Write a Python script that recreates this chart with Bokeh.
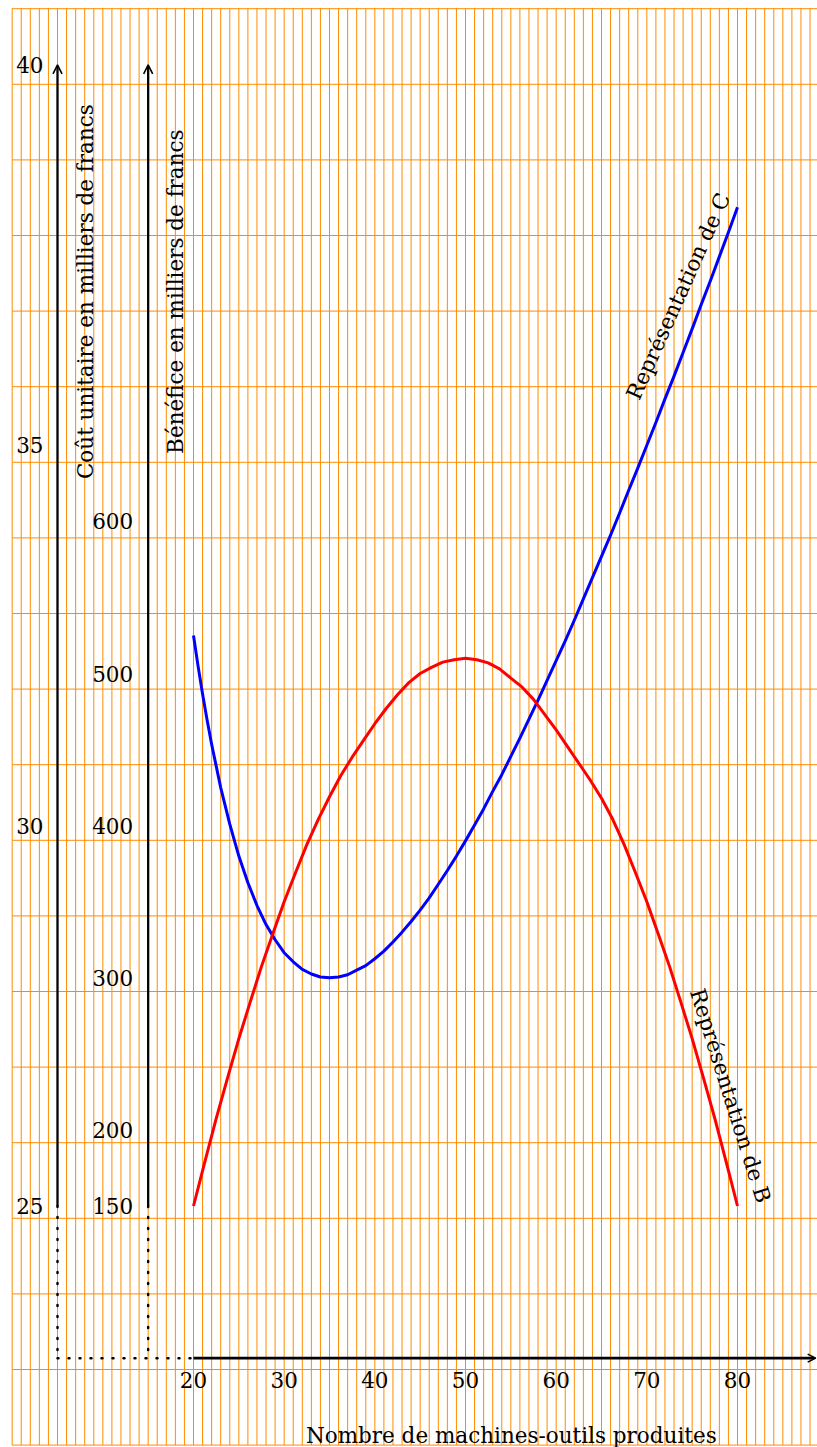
from math import radians
from bokeh.plotting import figure
from bokeh.models import Range1d, Arrow, OpenHead
from bokeh.core.properties import value
from bokeh.embed import file_html
from bokeh.resources import INLINE

# ---------------- data ----------------
x_cost = [20, 20.5, 21, 21.5, 22, 23, 24, 25, 26, 27, 28, 29, 30, 31, 32, 33, 34, 35, 36, 37,
          38, 39, 40, 41, 42, 43, 44, 45, 46, 47, 48, 49, 50, 51, 52, 53, 54, 55, 56, 57,
          58, 59, 60, 61, 62, 63, 64, 65, 66, 67, 68, 69, 70, 71, 72, 73, 74, 75, 76, 77,
          78, 79, 80]
cost = [32.50, 32.10, 31.73, 31.39, 31.07, 30.50, 30.02, 29.60, 29.25, 28.95, 28.70, 28.50,
        28.33, 28.21, 28.11, 28.05, 28.01, 28.00, 28.01, 28.04, 28.10, 28.16, 28.25, 28.35,
        28.47, 28.60, 28.74, 28.89, 29.05, 29.23, 29.41, 29.60, 29.80, 30.01, 30.22, 30.45,
        30.67, 30.91, 31.15, 31.40, 31.65, 31.91, 32.17, 32.43, 32.70, 32.98, 33.26, 33.54,
        33.82, 34.11, 34.41, 34.70, 35.00, 35.30, 35.61, 35.91, 36.22, 36.53, 36.85, 37.16,
        37.48, 37.80, 38.13]

x_benef = [20, 21.25, 22.5, 23.75, 25, 26.25, 27.5, 28.75, 30, 31.25, 32.5, 33.75, 35,
           36.25, 37.5, 38.75, 40, 41.25, 42.5, 43.75, 45, 46.25, 47.5, 48.75, 50,
           51.25, 52.5, 53.75, 55, 56.25, 57.5, 58.75, 60, 61.25, 62.5, 63.75, 65,
           66.25, 67.5, 68.75, 70, 71.25, 72.5, 73.75, 75, 76.25, 77.5, 78.75, 80]
benefit = [150, 179, 207.5, 234, 260, 284, 307.5, 329, 350, 369, 387.5, 404, 419,
           433, 445, 456, 467, 477, 486, 494, 500, 504, 507.5, 509, 510,
           509, 507, 503, 497, 491, 483, 473, 463, 452, 441, 430, 418,
           404, 387.5, 369, 350, 329, 307.5, 284, 260, 234, 207.5, 179, 150]

cost_ticks = [25, 30, 35, 40]
benef_ticks = [150, 200, 300, 400, 500, 600]
x_ticks = [20, 30, 40, 50, 60, 70, 80]

x_title = "Nombre de machines-outils produites"
cost_title = "Coût unitaire en milliers de francs"
benef_title = "Bénéfice en milliers de francs"
label_C = "Représentation de C"
label_B = "Représentation de B"

# ---------------- layout constants ----------------
PX_X = 9.0667   # pixels per machine
PX_Y = 76.07    # pixels per cost unit
W, H = 817, 1447
X_LEFT = 20 - 193 / PX_X
Y_TOP = 25 + 1205.5 / PX_Y
COST_AXIS_X, BENEF_AXIS_X = 5, 15
X_AXIS_Y = 23
COST_BASE, BENEF_BASE, BENEF_PER_COST = 25, 150, 50

FONT = value("DejaVu Serif")
FS = "21.5px"
GRID_COLOR = "#ff8c00"

p = figure(width=W, height=H,
           x_range=Range1d(X_LEFT, X_LEFT + W / PX_X),
           y_range=Range1d(Y_TOP - H / PX_Y, Y_TOP),
           output_backend="svg", toolbar_location=None, min_border=0,
           x_axis_location=None, y_axis_location=None, outline_line_color=None,
           background_fill_color="white", border_fill_color="white")
p.grid.visible = False

yr = p.y_range
p.extra_y_ranges = {"benef": Range1d(
    BENEF_BASE + (yr.start - COST_BASE) * BENEF_PER_COST,
    BENEF_BASE + (yr.end - COST_BASE) * BENEF_PER_COST)}

# ---------------- graph paper ----------------
g_bot = Y_TOP - 1444.6 / PX_Y
g_top = Y_TOP - 7.8 / PX_Y
g_step = 75.6 / PX_Y
x_end = X_LEFT + W / PX_X
vx = list(range(0, 89))
p.multi_line(xs=[[v, v] for v in vx], ys=[[g_bot, g_top] for _ in vx],
             line_color=GRID_COLOR, line_width=1)
hy = [g_bot + k * g_step for k in range(20)]
p.multi_line(xs=[[0, x_end] for _ in hy], ys=[[h, h] for h in hy],
             line_color=GRID_COLOR, line_width=1)

# ---------------- axes ----------------
for ax in (COST_AXIS_X, BENEF_AXIS_X):
    p.add_layout(Arrow(end=OpenHead(size=9, line_width=1.6, line_color="black"),
                       x_start=ax, y_start=COST_BASE, x_end=ax, y_end=40,
                       line_width=2.3, line_color="black"))
    p.line([ax, ax], [COST_BASE, X_AXIS_Y], line_color="black", line_width=2.5,
           line_dash="1 10", line_cap="round")
p.line([COST_AXIS_X, 20], [X_AXIS_Y, X_AXIS_Y], line_color="black", line_width=2.5,
       line_dash="1 10", line_cap="round")
p.add_layout(Arrow(end=OpenHead(size=8, line_width=1.6, line_color="black"),
                   x_start=20, y_start=X_AXIS_Y, x_end=x_end - 0.2, y_end=X_AXIS_Y,
                   line_width=2.8, line_color="black"))

# ---------------- curves ----------------
p.line(x_cost, cost, line_color="#0000ff", line_width=3, line_join="round")
p.line(x_benef, benefit, line_color="#ff0000", line_width=3, line_join="round",
       y_range_name="benef")

# ---------------- tick labels ----------------
p.text(x=[COST_AXIS_X] * len(cost_ticks), y=cost_ticks, text=[str(t) for t in cost_ticks],
       x_offset=-14, text_align="right", text_baseline="middle",
       text_font=FONT, text_font_size=FS, text_color="black")
p.text(x=[BENEF_AXIS_X] * len(benef_ticks), y=benef_ticks, text=[str(t) for t in benef_ticks],
       x_offset=-15, text_align="right", text_baseline="middle", y_range_name="benef",
       text_font=FONT, text_font_size=FS, text_color="black")
p.text(x=x_ticks, y=[X_AXIS_Y - 21.4 / PX_Y] * len(x_ticks), text=[str(t) for t in x_ticks],
       text_align="center", text_baseline="middle",
       text_font=FONT, text_font_size=FS, text_color="black")

# ---------------- titles ----------------
p.text(x=[55.05], y=[X_AXIS_Y - 77.5 / PX_Y], text=[x_title],
       text_align="center", text_baseline="alphabetic",
       text_font=FONT, text_font_size=FS, text_color="black")
p.text(x=[COST_AXIS_X + 3.09, BENEF_AXIS_X + 3.0], y=[37.02, 37.02],
       text=[cost_title, benef_title], angle=radians(90),
       text_align="center", text_baseline="middle",
       text_font=FONT, text_font_size=FS, text_color="black")
p.text(x=[73.45], y=[36.96], text=[label_C], angle=radians(65.9),
       text_align="center", text_baseline="middle",
       text_font=FONT, text_font_size=FS, text_color="black")
p.text(x=[79.23], y=[26.45], text=[label_B], angle=radians(-72.5),
       text_align="center", text_baseline="middle",
       text_font=FONT, text_font_size=FS, text_color="black")

open("out.html", "w").write(file_html(p, INLINE))
